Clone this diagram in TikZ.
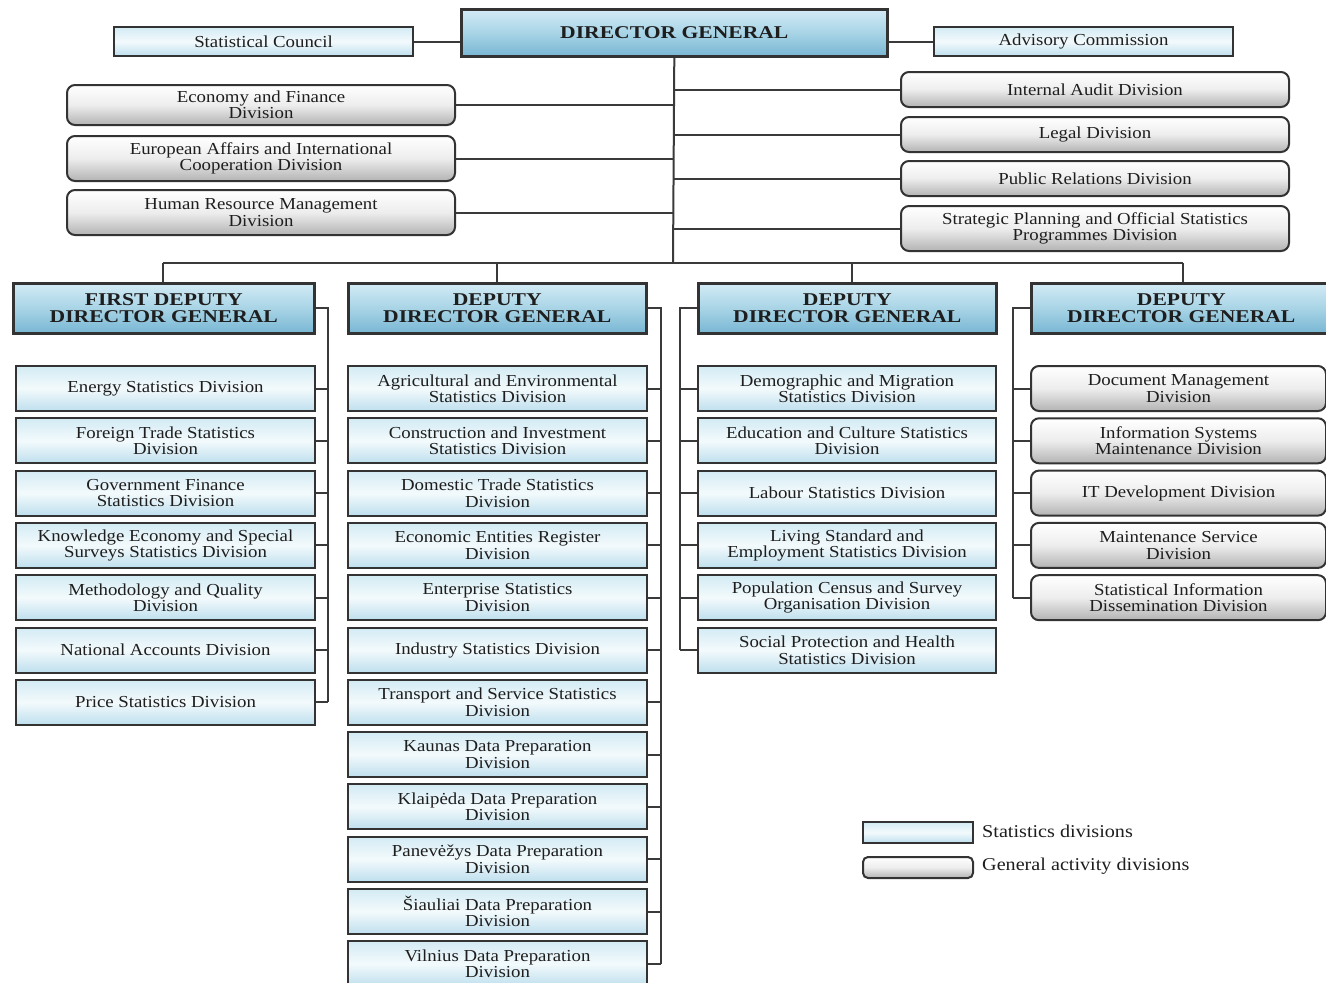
\documentclass[tikz,border=0pt]{standalone}
\usepackage{fontspec}
\setmainfont{Liberation Serif}
\newfontfamily\bodyfont[FakeStretch=1.12]{Liberation Serif}
\newfontfamily\headfont[FakeStretch=1.2]{Liberation Serif}
\definecolor{bordc}{HTML}{333333}
\definecolor{linec}{HTML}{3A3A3A}
\definecolor{txtc}{HTML}{1E1E1E}
\definecolor{stTop}{HTML}{D3EBF4}
\definecolor{stMid}{HTML}{F3FAFC}
\definecolor{stBot}{HTML}{BEDFEE}
\definecolor{hdTop}{HTML}{D3EBF5}
\definecolor{hdMid}{HTML}{A8D4E6}
\definecolor{hdBot}{HTML}{78B6D3}
\definecolor{gyTop}{HTML}{FFFFFF}
\definecolor{gyMid}{HTML}{EDEDED}
\definecolor{gyBot}{HTML}{B3B3B3}
\begin{document}
\begin{tikzpicture}[x=1pt,y=-1pt,
  base/.style={anchor=north west, inner sep=0pt, align=center, text=txtc,
    font=\bodyfont\fontsize{16.8}{16.5}\selectfont},
  stat/.style={base, draw=bordc, line width=2pt, top color=stTop, bottom color=stBot, middle color=stMid,
    minimum width=299pt, minimum height=45pt},
  gray/.style={base, draw=bordc, line width=2pt, rounded corners=8pt, top color=gyTop, bottom color=gyBot, middle color=gyMid,
    minimum width=388pt, minimum height=45pt},
  head/.style={base, draw=bordc, line width=2.6pt, top color=hdTop, bottom color=hdBot, middle color=hdMid,
    minimum width=299pt, minimum height=50pt, font=\headfont\bfseries\fontsize{18}{17}\selectfont},
  conn/.style={draw=linec, line width=2pt},
  legtext/.style={anchor=west, inner sep=0pt, text=txtc, font=\bodyfont\fontsize{18}{18}\selectfont}]
\useasboundingbox (0,0) rectangle (1326,983);
\fill[white] (0,0) rectangle (1326,983);

% top level
\node[head, minimum width=426pt, minimum height=47pt] (dg) at (460,8) {DIRECTOR GENERAL};
\node[stat, minimum height=29pt] (sc) at (113,26) {Statistical Council};
\node[stat, minimum height=29pt] (ac) at (933,26) {Advisory Commission};
\draw[conn] (sc.east) -- (sc.east -| dg.west);
\draw[conn] (ac.west) -- (ac.west -| dg.east);

% staff divisions left
\node[gray, minimum height=40pt] (g1) at (66,84) {Economy and Finance\\Division};
\node[gray] (g2) at (66,135) {European Affairs and International\\Cooperation Division};
\node[gray] (g3) at (66,189) {Human Resource Management\\Division};
% staff divisions right
\node[gray, minimum height=35pt] (r1) at (900,71) {Internal Audit Division};
\node[gray, minimum height=35pt] (r2) at (900,116) {Legal Division};
\node[gray, minimum height=35pt] (r3) at (900,160) {Public Relations Division};
\node[gray] (r4) at (900,205) {Strategic Planning and Official Statistics\\Programmes Division};

\coordinate (trunk) at (673,263);
\draw[conn] (dg.south) -- (trunk);
\foreach \n in {g1,g2,g3}{\draw[conn] (\n.east) -- (\n.east -| trunk);}
\foreach \n in {r1,r2,r3,r4}{\draw[conn] (\n.west) -- (\n.west -| trunk);}

% deputies
\node[head, minimum width=301pt] (h1) at (12,282) {FIRST DEPUTY\\DIRECTOR GENERAL};
\node[head, minimum width=298pt] (h2) at (347,282) {DEPUTY\\DIRECTOR GENERAL};
\node[head, minimum width=298pt] (h3) at (697,282) {DEPUTY\\DIRECTOR GENERAL};
\node[head, minimum width=300pt] (h4) at (1030,282) {DEPUTY\\DIRECTOR GENERAL};

\coordinate (b1) at (163,263);
\coordinate (b2) at (497,263);
\coordinate (b3) at (852,263);
\coordinate (b4) at (1183,263);
\draw[conn] (b1) -- (b4);
\draw[conn] (b1) -- (b1 |- h1.north);
\draw[conn] (b2) -- (b2 |- h2.north);
\draw[conn] (b3) -- (b3 |- h3.north);
\draw[conn] (b4) -- (b4 |- h4.north);

\coordinate (x1) at (328,0);
\coordinate (x2) at (661,0);
\coordinate (x3) at (680,0);
\coordinate (x4) at (1013,0);

% column 1
\foreach \t [count=\i from 0] in {{Energy Statistics Division},{Foreign Trade Statistics\\Division},
  {Government Finance\\Statistics Division},{Knowledge Economy and Special\\Surveys Statistics Division},
  {Methodology and Quality\\Division},{National Accounts Division},{Price Statistics Division}}{
  \node[stat] (a\i) at (15,{365+52.3*\i}) {\t};
  \draw[conn] (a\i.east) -- (a\i.east -| x1);
}
\draw[conn] (h1.east) -| (a6.east -| x1);

% column 2
\foreach \t [count=\i from 0] in {{Agricultural and Environmental\\Statistics Division},
  {Construction and Investment\\Statistics Division},{Domestic Trade Statistics\\Division},
  {Economic Entities Register\\Division},{Enterprise Statistics\\Division},{Industry Statistics Division},
  {Transport and Service Statistics\\Division},{Kaunas Data Preparation\\Division},
  {Klaipėda Data Preparation\\Division},{Panevėžys Data Preparation\\Division},
  {Šiauliai Data Preparation\\Division},{Vilnius Data Preparation\\Division}}{
  \node[stat] (b\i) at (347,{365+52.3*\i}) {\t};
  \draw[conn] (b\i.east) -- (b\i.east -| x2);
}
\draw[conn] (h2.east) -| (b11.east -| x2);

% column 3
\foreach \t [count=\i from 0] in {{Demographic and Migration\\Statistics Division},
  {Education and Culture Statistics\\Division},{Labour Statistics Division},
  {Living Standard and\\Employment Statistics Division},{Population Census and Survey\\Organisation Division},
  {Social Protection and Health\\Statistics Division}}{
  \node[stat, minimum width=298pt] (c\i) at (697,{365+52.3*\i}) {\t};
  \draw[conn] (c\i.west) -- (c\i.west -| x3);
}
\draw[conn] (h3.west) -| (c5.west -| x3);

% column 4
\foreach \t [count=\i from 0] in {{Document Management\\Division},{Information Systems\\Maintenance Division},
  {IT Development Division},{Maintenance Service\\Division},{Statistical Information\\Dissemination Division}}{
  \node[gray, minimum width=295pt] (d\i) at (1030,{365+52.3*\i}) {\t};
  \draw[conn] (d\i.west) -- (d\i.west -| x4);
}
\draw[conn] (h4.west) -| (d4.west -| x4);

% legend
\node[stat, minimum width=110pt, minimum height=21pt] (l1) at (862,821) {};
\node[gray, minimum width=110pt, minimum height=21pt, rounded corners=5pt] (l2) at (862,856) {};
\node[legtext] (lt1) at (982,831.5) {Statistics divisions};
\node[legtext] (lt2) at (982,866.5) {General activity divisions};
\end{tikzpicture}
\end{document}
